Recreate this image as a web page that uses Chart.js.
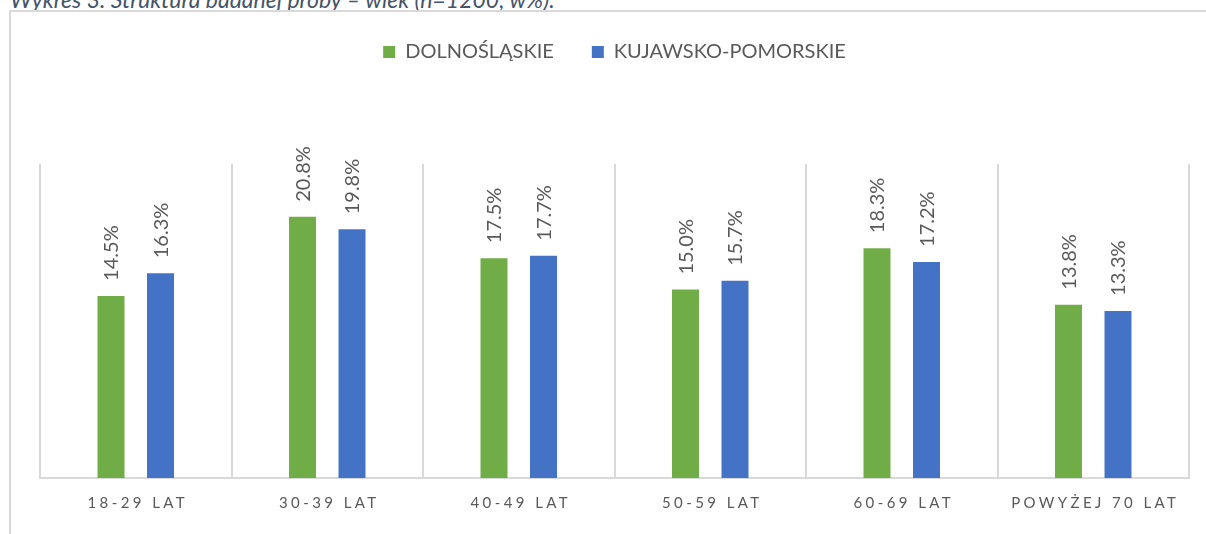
<!DOCTYPE html>
<html>
<head>
<meta charset="utf-8">
<script src="https://cdn.jsdelivr.net/npm/chart.js@4.4.1/dist/chart.umd.min.js"></script>
<style>
  html, body { margin: 0; padding: 0; background: #fff; overflow: hidden; }
  #wrap { position: relative; width: 1206px; height: 534px; }
  #tytul { position: absolute; left: 10px; top: -15px; font: italic 23px Lato, sans-serif; color: #44546A; white-space: nowrap; }
  #ramka { position: absolute; left: 9px; top: 10px; width: 1210px; height: 560px; border: 2px solid #D9D9D9; box-sizing: border-box; }
  #myChart { position: absolute; left: 0; top: 0; }
</style>
</head>
<body>
<div id="wrap">
  <div id="tytul">Wykres 3. Struktura badanej próby – wiek (n=1200, w%).</div>
  <div id="ramka"></div>
  <canvas id="myChart" width="1206" height="534"></canvas>
</div>
<script>
const kategorie = ['18-29 LAT', '30-39 LAT', '40-49 LAT', '50-59 LAT', '60-69 LAT', 'POWYŻEJ 70 LAT'];
const dolnoslaskie = [14.5, 20.8, 17.5, 15.0, 18.3, 13.8];
const kujawskoPomorskie = [16.3, 19.8, 17.7, 15.7, 17.2, 13.3];
const nazwySerii = ['DOLNOŚLĄSKIE', 'KUJAWSKO-POMORSKIE'];

const szary = '#595959';

// dodatkowe miejsce pod legenda
const legendaPlugin = {
    id: 'legendaOdstep',
    beforeInit(chart) {
        const staryFit = chart.legend.fit;
        chart.legend.fit = function () {
            staryFit.bind(chart.legend)();
            this.height += 92;
        };
    }
};

// etykiety wartosci obrocone o 90 stopni nad slupkami
const etykietyPlugin = {
    id: 'etykiety',
    afterDatasetsDraw(chart) {
        const ctx = chart.ctx;
        ctx.save();
        ctx.font = '20px Lato, sans-serif';
        ctx.fillStyle = szary;
        ctx.textAlign = 'left';
        ctx.textBaseline = 'middle';
        chart.data.datasets.forEach((ds, i) => {
            chart.getDatasetMeta(i).data.forEach((bar, j) => {
                ctx.save();
                ctx.translate(bar.x + 1, bar.y - 15);
                ctx.rotate(-Math.PI / 2);
                ctx.fillText(ds.data[j].toFixed(1) + '%', 0, 0);
                ctx.restore();
            });
        });
        ctx.restore();
    }
};

// podpisy osi X z rozstrzelonymi literami
const osXPlugin = {
    id: 'osX',
    afterDraw(chart) {
        const ctx = chart.ctx;
        const skala = chart.scales.x;
        ctx.save();
        ctx.font = '15px Lato, sans-serif';
        ctx.fillStyle = szary;
        ctx.letterSpacing = '3.4px';
        ctx.textAlign = 'center';
        ctx.textBaseline = 'middle';
        chart.data.labels.forEach((lab, i) => {
            ctx.fillText(lab, skala.getPixelForTick(i) + 2, chart.chartArea.bottom + 25);
        });
        ctx.restore();
    }
};

const ctx = document.getElementById('myChart');

myChart = new Chart(ctx, {
    type: 'bar',
    data: {
        labels: kategorie,
        datasets: [{
            label: nazwySerii[0],
            data: dolnoslaskie,
            backgroundColor: '#70AD47',
            categoryPercentage: 0.517,
            barPercentage: 0.545
        }, {
            label: nazwySerii[1],
            data: kujawskoPomorskie,
            backgroundColor: '#4472C4',
            categoryPercentage: 0.517,
            barPercentage: 0.545
        }]
    },
    options: {
        responsive: false,
        animation: false,
        layout: {
            padding: { left: 40, right: 17, top: 4, bottom: 56 }
        },
        scales: {
            x: {
                grid: {
                    offset: true,
                    color: '#D9D9D9',
                    lineWidth: 2,
                    drawTicks: false
                },
                border: { display: true, color: '#D9D9D9', width: 2 },
                ticks: { display: false }
            },
            y: {
                display: false,
                min: 0,
                max: 25
            }
        },
        plugins: {
            legend: {
                position: 'top',
                labels: {
                    boxWidth: 12,
                    boxHeight: 12,
                    padding: 38,
                    color: szary,
                    font: { family: 'Lato', size: 20 }
                }
            },
            tooltip: { enabled: false }
        }
    },
    plugins: [legendaPlugin, etykietyPlugin, osXPlugin]
});
</script>
</body>
</html>
